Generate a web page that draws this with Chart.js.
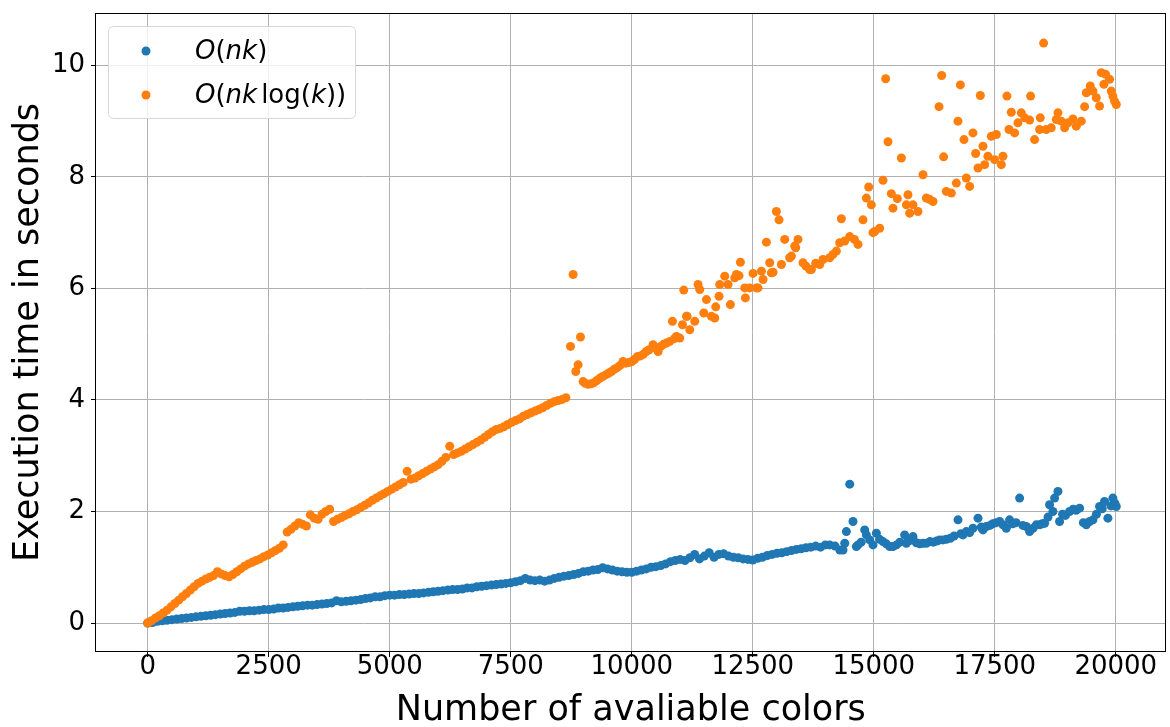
<!DOCTYPE html>
<html>
<head>
<meta charset="utf-8">
<script src="https://cdn.jsdelivr.net/npm/chart.js@4.4.0/dist/chart.umd.min.js"></script>
<style>
  html, body { margin: 0; padding: 0; background: #fff; }
  canvas { display: block; }
</style>
</head>
<body>
<canvas id="chart" width="1170" height="727"></canvas>
<script>
const xTicks = [0, 2500, 5000, 7500, 10000, 12500, 15000, 17500, 20000];
const yTicks = [0, 2, 4, 6, 8, 10];

const nkX = [
  0, 100, 200, 300, 400, 500, 600, 700, 800, 900,
  1000, 1100, 1200, 1300, 1400, 1500, 1600, 1700, 1800, 1900,
  2000, 2100, 2200, 2300, 2400, 2500, 2600, 2700, 2800, 2900,
  3000, 3100, 3200, 3300, 3400, 3500, 3600, 3700, 3800, 3900,
  4000, 4100, 4200, 4300, 4400, 4500, 4600, 4700, 4800, 4900,
  5000, 5100, 5200, 5300, 5400, 5500, 5600, 5700, 5800, 5900,
  6000, 6100, 6200, 6300, 6400, 6500, 6600, 6700, 6800, 6900,
  7000, 7100, 7200, 7300, 7400, 7500, 7600, 7700, 7800, 7900,
  8000, 8100, 8200, 8300, 8400, 8500, 8600, 8700, 8800, 8900,
  9000, 9100, 9200, 9300, 9400, 9500, 9600, 9700, 9800, 9900,
  10000, 10100, 10200, 10300, 10400, 10500, 10600, 10700, 10800, 10900,
  11000, 11100, 11200, 11300, 11400, 11500, 11600, 11700, 11800, 11900,
  12000, 12100, 12200, 12300, 12400, 12500, 12600, 12700, 12800, 12900,
  13000, 13100, 13200, 13300, 13400, 13500, 13600, 13700, 13800, 13900,
  14000, 14090, 14200, 14300, 14365, 14400, 14434, 14503, 14571, 14640, 14675, 14740, 14812,
  14847, 14916, 14984, 15054, 15120, 15191, 15260, 15329, 15397, 15470, 15540, 15638, 15673,
  15740, 15810, 15880, 15950, 16017, 16086, 16160, 16230, 16300, 16361, 16430, 16500, 16580,
  16660, 16740, 16800, 16843, 16912, 16980, 17050, 17153, 17220, 17256, 17325, 17400, 17460,
  17530, 17600, 17670, 17738, 17806, 17870, 17940, 18013, 18080, 18151, 18220, 18290, 18358,
  18426, 18480, 18529, 18600, 18632, 18701, 18736, 18805, 18839, 18900, 18960, 19046, 19120,
  19180, 19253, 19330, 19391, 19460, 19528, 19600, 19665, 19720, 19768, 19837, 19900, 19940,
  19980, 20010
];
const nkY = [
  0.00, 0.01, 0.03, 0.04, 0.05, 0.06, 0.07, 0.08, 0.09, 0.10,
  0.11, 0.12, 0.13, 0.14, 0.15, 0.16, 0.17, 0.18, 0.19, 0.21,
  0.21, 0.22, 0.22, 0.23, 0.24, 0.24, 0.25, 0.27, 0.27, 0.28,
  0.29, 0.30, 0.31, 0.32, 0.32, 0.33, 0.34, 0.35, 0.36, 0.40,
  0.38, 0.39, 0.40, 0.41, 0.42, 0.44, 0.45, 0.47, 0.47, 0.49,
  0.50, 0.50, 0.51, 0.51, 0.52, 0.53, 0.53, 0.54, 0.55, 0.56,
  0.57, 0.58, 0.59, 0.60, 0.60, 0.61, 0.63, 0.63, 0.65, 0.66,
  0.67, 0.68, 0.69, 0.70, 0.71, 0.72, 0.74, 0.76, 0.80, 0.77,
  0.76, 0.77, 0.75, 0.77, 0.80, 0.82, 0.84, 0.85, 0.87, 0.89,
  0.92, 0.93, 0.95, 0.96, 0.99, 0.97, 0.95, 0.93, 0.92, 0.91,
  0.91, 0.93, 0.95, 0.97, 1.00, 1.01, 1.03, 1.06, 1.10, 1.12,
  1.14, 1.12, 1.17, 1.23, 1.15, 1.20, 1.26, 1.18, 1.23, 1.24,
  1.20, 1.18, 1.17, 1.15, 1.14, 1.13, 1.16, 1.18, 1.21, 1.23,
  1.25, 1.26, 1.28, 1.30, 1.32, 1.33, 1.35, 1.36, 1.38, 1.36,
  1.40, 1.40, 1.38, 1.31, 1.31, 1.43, 1.64, 2.49, 1.82, 1.37, 1.40, 1.45, 1.67,
  1.58, 1.49, 1.40, 1.61, 1.50, 1.46, 1.42, 1.37, 1.37, 1.40, 1.45, 1.58, 1.43,
  1.48, 1.55, 1.44, 1.42, 1.43, 1.43, 1.46, 1.45, 1.47, 1.49, 1.49, 1.50, 1.52,
  1.56, 1.85, 1.60, 1.58, 1.64, 1.62, 1.70, 1.88, 1.72, 1.67, 1.73, 1.75, 1.78,
  1.80, 1.82, 1.76, 1.70, 1.85, 1.78, 1.80, 2.24, 1.75, 1.73, 1.64, 1.70, 1.76,
  1.76, 1.78, 1.79, 1.90, 2.12, 2.00, 2.24, 2.36, 1.82, 1.95, 1.93, 2.00, 2.04,
  2.02, 2.06, 1.80, 1.76, 1.82, 1.85, 1.95, 2.09, 2.05, 2.18, 1.88, 2.10, 2.24,
  2.15, 2.09
];

const nkLogX = [
  0, 80, 160, 240, 320, 400, 480, 560, 640, 720,
  800, 880, 960, 1040, 1120, 1200, 1280, 1360, 1440, 1520,
  1600, 1680, 1760, 1840, 1920, 2000, 2080, 2160, 2240, 2320,
  2400, 2480, 2560, 2640, 2720, 2800, 2880, 2960, 3040, 3120,
  3200, 3280, 3360, 3440, 3520, 3600, 3680, 3760, 3840, 3920,
  4000, 4080, 4160, 4240, 4320, 4400, 4480, 4560, 4640, 4720,
  4800, 4880, 4960, 5040, 5120, 5200, 5280, 5360, 5440, 5520,
  5600, 5680, 5760, 5840, 5920, 6000, 6080, 6160, 6240, 6320,
  6400, 6480, 6560, 6640, 6720, 6800, 6880, 6960, 7040, 7120,
  7200, 7280, 7360, 7440, 7520, 7600, 7680, 7760, 7840, 7920,
  8000, 8080, 8160, 8240, 8320, 8400, 8480, 8560, 8640,
  8735, 8789, 8844, 8892, 8941, 8995, 9040, 9100, 9160, 9220,
  9280, 9340, 9400, 9460, 9520, 9580, 9640, 9700, 9760, 9820,
  9880, 9940, 10000, 10060, 10120, 10180, 10240, 10300, 10360, 10440,
  10500, 10545, 10600, 10660, 10717, 10786, 10841, 10880, 10924, 10992,
  11048, 11075, 11130, 11143, 11198, 11302, 11370, 11405, 11488, 11543, 11646, 11715, 11735,
  11804, 11818, 11921, 11990, 12038, 12128, 12163, 12217, 12245, 12334, 12348, 12437, 12506,
  12575, 12609, 12679, 12713, 12782, 12850, 12885, 12919, 12988, 13043, 13092, 13160, 13263,
  13299, 13367, 13387, 13435, 13538, 13600, 13676, 13712, 13800, 13883, 13951, 14090, 14158,
  14228, 14296, 14331, 14400, 14503, 14600, 14675, 14778, 14847, 14895, 14950, 14984, 15019,
  15122, 15191, 15246, 15294, 15363, 15397, 15488, 15570, 15673, 15707, 15742, 15810, 15913,
  16017, 16086, 16150, 16224, 16348, 16403, 16444, 16499, 16603, 16706, 16740, 16789, 16864,
  16912, 16981, 17049, 17105, 17153, 17202, 17256, 17291, 17358, 17429, 17497, 17532, 17635,
  17669, 17751, 17793, 17841, 17910, 17978, 18048, 18117, 18220, 18240, 18323, 18426, 18440,
  18509, 18564, 18667, 18771, 18805, 18874, 18943, 19012, 19115, 19184, 19287, 19356, 19391,
  19473, 19528, 19597, 19665, 19700, 19754, 19789, 19872, 19906, 19940, 19975, 20010
];
const nkLogY = [
  0.00, 0.04, 0.09, 0.13, 0.18, 0.23, 0.29, 0.35, 0.41, 0.47,
  0.53, 0.59, 0.65, 0.71, 0.75, 0.79, 0.82, 0.85, 0.92, 0.88,
  0.85, 0.83, 0.87, 0.92, 0.97, 1.02, 1.06, 1.09, 1.12, 1.15,
  1.19, 1.22, 1.26, 1.30, 1.34, 1.40, 1.63, 1.68, 1.74, 1.80,
  1.77, 1.74, 1.94, 1.88, 1.86, 1.95, 2.00, 2.04, 1.82, 1.86,
  1.89, 1.93, 1.96, 2.00, 2.03, 2.07, 2.11, 2.15, 2.20, 2.24,
  2.28, 2.32, 2.36, 2.40, 2.44, 2.48, 2.52, 2.72, 2.58, 2.60,
  2.64, 2.68, 2.72, 2.76, 2.80, 2.84, 2.90, 2.97, 3.17, 3.02,
  3.05, 3.08, 3.12, 3.16, 3.20, 3.24, 3.28, 3.33, 3.38, 3.43,
  3.47, 3.49, 3.52, 3.56, 3.60, 3.63, 3.66, 3.71, 3.74, 3.77,
  3.80, 3.83, 3.86, 3.90, 3.94, 3.97, 3.99, 4.01, 4.04,
  4.96, 6.25, 4.51, 4.63, 5.13, 4.33, 4.30, 4.28, 4.29, 4.31,
  4.35, 4.39, 4.42, 4.45, 4.48, 4.51, 4.55, 4.58, 4.62, 4.69,
  4.66, 4.67, 4.69, 4.73, 4.78, 4.79, 4.82, 4.87, 4.90, 4.99,
  4.93, 4.87, 4.96, 5.00, 5.02, 5.05, 5.41, 5.10, 5.14, 5.11,
  5.35, 5.97, 5.50, 5.50, 5.26, 5.41, 6.07, 5.98, 5.56, 5.80, 5.50, 5.47, 5.67,
  5.86, 6.07, 6.22, 6.07, 5.71, 6.19, 6.25, 6.23, 6.47, 6.01, 5.83, 6.01, 6.27,
  6.01, 6.01, 6.31, 6.16, 6.83, 6.46, 6.28, 6.29, 7.38, 7.23, 6.43, 6.88, 6.55,
  6.58, 6.76, 6.73, 6.88, 6.46, 6.40, 6.34, 6.34, 6.45, 6.43, 6.52, 6.55, 6.61,
  6.67, 6.82, 7.25, 6.85, 6.93, 6.88, 6.79, 7.23, 7.62, 7.82, 7.50, 7.00, 7.02,
  7.08, 7.94, 9.76, 8.63, 7.70, 7.44, 7.61, 8.34, 7.50, 7.68, 7.35, 7.50, 7.38,
  8.04, 7.62, 7.60, 7.56, 9.26, 9.82, 8.36, 7.74, 7.71, 7.89, 9.00, 9.65, 8.67,
  7.98, 7.83, 8.79, 8.42, 8.16, 9.46, 8.55, 8.22, 8.37, 8.73, 8.31, 8.76, 8.22,
  8.37, 9.45, 8.85, 9.16, 8.79, 8.97, 9.15, 9.06, 9.02, 9.45, 8.67, 8.85, 9.06,
  10.40, 8.85, 8.88, 9.03, 9.15, 9.00, 8.88, 8.97, 9.04, 8.91, 9.00, 9.26, 9.51,
  9.63, 9.54, 9.42, 9.27, 9.87, 9.66, 9.84, 9.75, 9.54, 9.45, 9.36, 9.30
];

const blue = "#1f77b4";
const orange = "#ff7f0e";

// legend labels, split into [text, italic] runs like matplotlib mathtext
const legendRuns = [
  [["O", true], ["(", false], ["nk", true], [")", false]],
  [["O", true], ["(", false], ["nk", true], [" ", false], ["log", false], ["(", false], ["k", true], ["))", false]]
];

function toPoints(xs, ys) {
  return xs.map((x, i) => ({ x, y: ys[i] }));
}

const framePlugin = {
  id: "frame",
  afterDraw(chart) {
    const { ctx, chartArea } = chart;
    ctx.save();
    ctx.strokeStyle = "#000";
    ctx.lineWidth = 1;
    const l = Math.round(chartArea.left) - 0.5;
    const t = Math.round(chartArea.top) + 0.5;
    const r = Math.round(chartArea.right) - 0.5;
    const b = Math.round(chartArea.bottom) - 0.5;
    ctx.strokeRect(l, t, r - l, b - t);

    // legend box
    const bx = 108.5, by = 26.5, bw = 247, bh = 92, rad = 5;
    ctx.beginPath();
    ctx.moveTo(bx + rad, by);
    ctx.arcTo(bx + bw, by, bx + bw, by + bh, rad);
    ctx.arcTo(bx + bw, by + bh, bx, by + bh, rad);
    ctx.arcTo(bx, by + bh, bx, by, rad);
    ctx.arcTo(bx, by, bx + bw, by, rad);
    ctx.closePath();
    ctx.fillStyle = "rgba(255,255,255,0.8)";
    ctx.fill();
    ctx.strokeStyle = "#d6d6d6";
    ctx.stroke();

    chart.data.datasets.forEach((ds, i) => {
      const cy = 51 + i * 44;
      ctx.beginPath();
      ctx.arc(146, cy, 4.5, 0, Math.PI * 2);
      ctx.fillStyle = ds.backgroundColor;
      ctx.fill();

      let x = 195;
      ctx.fillStyle = "#000";
      ctx.textBaseline = "middle";
      legendRuns[i].forEach(([text, italic]) => {
        ctx.font = (italic ? "italic " : "") + "26px 'DejaVu Sans'";
        const w = text === " " ? 4 : ctx.measureText(text).width;
        if (text !== " ") ctx.fillText(text, x, cy + 1);
        x += w;
      });
    });
    ctx.restore();
  }
};

const tickFont = { family: "'DejaVu Sans'", size: 26 };
const titleFont = { family: "'DejaVu Sans'", size: 35 };

new Chart(document.getElementById("chart"), {
  type: "scatter",
  data: {
    datasets: [
      {
        label: "O(nk)",
        data: toPoints(nkX, nkY),
        backgroundColor: blue,
        borderWidth: 0,
        pointRadius: 4.5,
        order: 1
      },
      {
        label: "O(nk log(k))",
        data: toPoints(nkLogX, nkLogY),
        backgroundColor: orange,
        borderWidth: 0,
        pointRadius: 4.5,
        order: 0
      }
    ]
  },
  options: {
    responsive: false,
    animation: false,
    devicePixelRatio: 1,
    layout: { padding: { top: 13, right: 4, left: 0, bottom: 0 } },
    plugins: { legend: { display: false }, tooltip: { enabled: false } },
    scales: {
      x: {
        type: "linear",
        min: -1068,
        max: 21027,
        afterBuildTicks: (scale) => { scale.ticks = xTicks.map((v) => ({ value: v })); },
        afterFit: (scale) => {
          scale.height = 75;
          scale.paddingLeft = 0;
          scale.paddingRight = 0;
        },
        ticks: { font: tickFont, color: "#000", padding: -5, maxRotation: 0, callback: (v) => String(v) },
        grid: { color: "#b0b0b0", lineWidth: 1, tickLength: 5, tickColor: "#000" },
        border: { display: false },
        title: { display: true, text: "Number of avaliable colors", font: titleFont, color: "#000", padding: { top: 0, bottom: -5 } }
      },
      y: {
        type: "linear",
        min: -0.52,
        max: 10.94,
        afterBuildTicks: (scale) => { scale.ticks = yTicks.map((v) => ({ value: v })); },
        afterFit: (scale) => {
          scale.width = 96;
          scale.paddingTop = 0;
          scale.paddingBottom = 0;
        },
        ticks: { font: tickFont, color: "#000", padding: 6, callback: (v) => String(v) },
        grid: { color: "#b0b0b0", lineWidth: 1, tickLength: 5, tickColor: "#000" },
        border: { display: false },
        title: { display: true, text: "Execution time in seconds", font: titleFont, color: "#000", padding: { top: 8, bottom: 0 } }
      }
    }
  },
  plugins: [framePlugin]
});
</script>
</body>
</html>
